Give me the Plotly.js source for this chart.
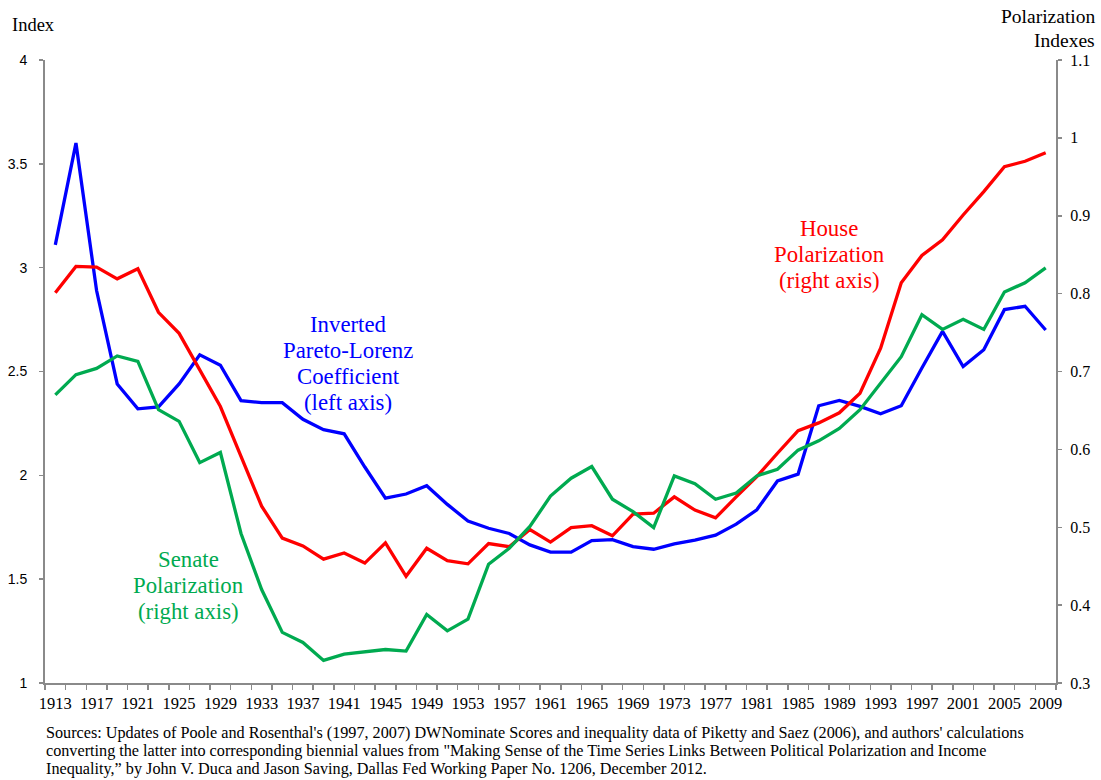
<!DOCTYPE html>
<html>
<head>
<meta charset="utf-8">
<script src="https://cdn.plot.ly/plotly-3.0.1.min.js"></script>
<style>html,body{margin:0;padding:0;background:#fff;}#chart{width:1101px;height:780px;}</style>
</head>
<body>
<div id="chart"></div>
<script>
// ---- data (biennial) ----
const years = [1913,1915,1917,1919,1921,1923,1925,1927,1929,1931,1933,1935,1937,1939,1941,1943,1945,1947,1949,1951,1953,1955,1957,1959,1961,1963,1965,1967,1969,1971,1973,1975,1977,1979,1981,1983,1985,1987,1989,1991,1993,1995,1997,1999,2001,2003,2005,2007,2009];

// Inverted Pareto-Lorenz Coefficient (left axis)
const paretoLorenz = [3.11,3.60,2.89,2.44,2.32,2.33,2.44,2.58,2.53,2.36,2.35,2.35,2.27,2.22,2.20,2.04,1.89,1.91,1.95,1.86,1.78,1.745,1.72,1.665,1.63,1.63,1.686,1.69,1.657,1.644,1.67,1.688,1.712,1.765,1.834,1.973,2.006,2.335,2.361,2.332,2.296,2.335,2.517,2.693,2.524,2.605,2.798,2.814,2.70];

// House Polarization (right axis)
const housePol = [0.801,0.835,0.834,0.819,0.832,0.776,0.749,0.703,0.655,0.591,0.527,0.486,0.476,0.459,0.467,0.454,0.480,0.437,0.473,0.457,0.453,0.479,0.475,0.497,0.481,0.4995,0.502,0.489,0.517,0.518,0.539,0.522,0.512,0.539,0.565,0.595,0.624,0.634,0.647,0.672,0.730,0.814,0.849,0.869,0.901,0.931,0.963,0.970,0.981];

// Senate Polarization (right axis)
const senatePol = [0.670,0.696,0.704,0.720,0.713,0.651,0.636,0.583,0.596,0.492,0.420,0.365,0.352,0.329,0.337,0.340,0.343,0.341,0.388,0.367,0.382,0.4525,0.473,0.501,0.540,0.563,0.578,0.536,0.520,0.4995,0.566,0.556,0.536,0.544,0.566,0.5745,0.599,0.611,0.627,0.651,0.685,0.719,0.773,0.754,0.767,0.754,0.802,0.814,0.833];

// tick labels
const xTickVals = [1913,1917,1921,1925,1929,1933,1937,1941,1945,1949,1953,1957,1961,1965,1969,1973,1977,1981,1985,1989,1993,1997,2001,2005,2009];
const xTickText = ['1913','1917','1921','1925','1929','1933','1937','1941','1945','1949','1953','1957','1961','1965','1969','1973','1977','1981','1985','1989','1993','1997','2001','2005','2009'];
const yLeftVals = [1,1.5,2,2.5,3,3.5,4];
const yLeftText = ['1','1.5','2','2.5','3','3.5','4'];
const yRightVals = [0.3,0.4,0.5,0.6,0.7,0.8,0.9,1.0,1.1];
const yRightText = ['0.3','0.4','0.5','0.6','0.7','0.8','0.9','1','1.1'];

// labels
const blueLabel = ['Inverted','Pareto-Lorenz','Coefficient','(left axis)'];
const houseLabel = ['House','Polarization','(right axis)'];
const senateLabel = ['Senate','Polarization','(right axis)'];
const leftTitle = 'Index';
const rightTitle = ['Polarization','Indexes'];
const sourceLines = [
  "Sources: Updates of Poole and Rosenthal's (1997, 2007) DWNominate Scores and inequality data of Piketty and Saez (2006), and authors' calculations",
  "converting the latter into corresponding biennial values from \"Making Sense of the Time Series Links Between Political Polarization and Income",
  "Inequality,\u201d by John V. Duca and Jason Saving, Dallas Fed Working Paper No. 1206, December 2012."
];

// ---- styling / layout ----
const W = 1101, H = 780;
const M = {l:45, r:45, t:60, b:97};
const PW = W - M.l - M.r, PH = H - M.t - M.b;
const px = x => (x - M.l) / PW;
const py = y => (H - M.b - y) / PH;

const BLUE = '#0000FF', RED = '#FF0000', GREEN = '#00AA50';
const AXC = '#8a8a8a';
const SERIF = 'Liberation Serif, Times New Roman, serif';
const SANS = 'Liberation Sans, Arial, sans-serif';

const traces = [
  {x: years, y: paretoLorenz, type:'scatter', mode:'lines', name:'Inverted Pareto-Lorenz Coefficient', line:{color:BLUE, width:3.3}, yaxis:'y'},
  {x: years, y: housePol, type:'scatter', mode:'lines', name:'House Polarization', line:{color:RED, width:3.3}, yaxis:'y2'},
  {x: years, y: senatePol, type:'scatter', mode:'lines', name:'Senate Polarization', line:{color:GREEN, width:3.3}, yaxis:'y2'}
];

const ann = [];
function addLines(lines, cx, y0, dy, color, size) {
  lines.forEach((t, i) => ann.push({
    text: t, xref:'paper', yref:'paper', x: px(cx), y: py(y0 + i*dy),
    xanchor:'center', yanchor:'middle', showarrow:false,
    font:{family:SERIF, size:size, color:color}
  }));
}
addLines(blueLabel, 348, 324, 26, BLUE, 22.8);
addLines(houseLabel, 829, 228, 26.4, RED, 22.8);
addLines(senateLabel, 188, 559, 26.4, GREEN, 22.8);

ann.push({text:leftTitle, xref:'paper', yref:'paper', x:px(10), y:py(25), xanchor:'left', yanchor:'middle', showarrow:false, font:{family:SERIF, size:18.5, color:'#000'}});
rightTitle.forEach((t,i) => ann.push({text:t, xref:'paper', yref:'paper', x:px(1097), y:py(17 + i*23), xanchor:'right', yanchor:'middle', showarrow:false, font:{family:SERIF, size:19.5, color:'#000'}}));
sourceLines.forEach((t,i) => ann.push({text:t, xref:'paper', yref:'paper', x:px(44), y:py(733 + i*18.2), xanchor:'left', yanchor:'middle', showarrow:false, font:{family:SERIF, size:16.2, color:'#000'}}));

const layout = {
  width: W, height: H,
  margin: M,
  paper_bgcolor:'#fff', plot_bgcolor:'#fff',
  showlegend:false,
  xaxis: {
    range:[1912, 2010], showgrid:false, zeroline:false,
    showline:true, linecolor:AXC, linewidth:2,
    tickmode:'array', tickvals:xTickVals, ticktext:xTickText, ticks:'',
    ticklabelstandoff:4,
    tickfont:{family:SERIF, size:16.5, color:'#000'},
    minor:{tickmode:'linear', tick0:1912, dtick:2, ticks:'outside', ticklen:5, tickwidth:1.5, tickcolor:AXC, showgrid:false}
  },
  yaxis: {
    range:[1,4], showgrid:false, zeroline:false,
    showline:true, linecolor:AXC, linewidth:2,
    tickmode:'array', tickvals:yLeftVals, ticktext:yLeftText,
    ticks:'outside', ticklen:4, tickwidth:1.5, tickcolor:AXC,
    ticklabelstandoff:9,
    tickfont:{family:SANS, size:14, color:'#000'}
  },
  yaxis2: {
    range:[0.3,1.1], overlaying:'y', side:'right', anchor:'x', showgrid:false, zeroline:false,
    showline:true, linecolor:AXC, linewidth:2,
    tickmode:'array', tickvals:yRightVals, ticktext:yRightText,
    ticks:'outside', ticklen:4, tickwidth:1.5, tickcolor:AXC,
    ticklabelstandoff:5,
    tickfont:{family:SERIF, size:16, color:'#000'}
  },
  annotations: ann
};

Plotly.newPlot('chart', traces, layout, {displayModeBar:false, staticPlot:true});
</script>
</body>
</html>
